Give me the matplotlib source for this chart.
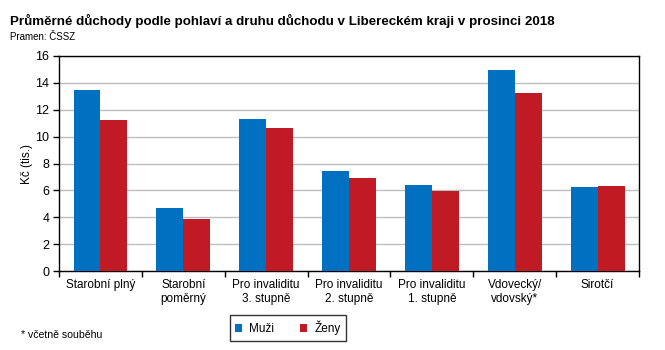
import matplotlib
matplotlib.use("Agg")
import matplotlib.pyplot as plt
import numpy as np

categories = ["Starobní plný", "Starobní\npoměrný", "Pro invaliditu\n3. stupně",
              "Pro invaliditu\n2. stupně", "Pro invaliditu\n1. stupně",
              "Vdovecký/\nvdovský*", "Sirotčí"]
muzi = [13.47, 4.69, 11.30, 7.44, 6.40, 14.96, 6.25]
zeny = [11.23, 3.87, 10.64, 6.92, 5.95, 13.24, 6.32]
yticks = [0, 2, 4, 6, 8, 10, 12, 14, 16]

plt.rcParams['font.family'] = ['Liberation Sans', 'DejaVu Sans']

fig = plt.figure(figsize=(6.65, 3.5), dpi=100)
ax = fig.add_axes([59/665, 79/350, 580/665, 215/350])

x = np.arange(len(categories))
w = 0.325
blue = "#0070C0"
red = "#C01A24"
b1 = ax.bar(x - w/2, muzi, w, color=blue, label="Muži", zorder=3)
b2 = ax.bar(x + w/2, zeny, w, color=red, label="Ženy", zorder=3)

ax.set_xlim(-0.5, len(categories) - 0.5)
ax.set_ylim(0, 16)
ax.set_yticks(yticks)
ax.set_yticklabels([str(v) for v in yticks], fontsize=9)
ax.set_xticks(x)
ax.set_xticklabels(categories, fontsize=8.5, linespacing=1.15)
ax.tick_params(axis='x', which='major', length=0, pad=6)
ax.set_xticks(np.arange(-0.5, len(categories), 1), minor=True)
ax.tick_params(axis='x', which='minor', length=4, direction='out', width=1)
ax.tick_params(axis='y', length=4, direction='out', width=1, pad=3)
ax.yaxis.grid(True, color="#BEBEBE", linewidth=1, zorder=0)
ax.set_axisbelow(True)
for s in ax.spines.values():
    s.set_linewidth(1)
    s.set_color("black")
ax.set_ylabel("Kč (tis.)", fontsize=8.5, labelpad=1.5)

fig.text(10/665, 1 - 25/350, "Průměrné důchody podle pohlaví a druhu důchodu v Libereckém kraji v prosinci 2018",
         fontsize=9.6, fontweight='bold', va='baseline', ha='left')
fig.text(10/665, 1 - 40/350, "Pramen: ČSSZ", fontsize=7, va='baseline', ha='left')
fig.text(21/665, 1 - 338/350, "* včetně souběhu", fontsize=7.6, va='baseline', ha='left')

leg = fig.legend(handles=[b1, b2], loc='center', bbox_to_anchor=(288/665, 1 - 328/350),
                 ncol=2, fontsize=8.5, frameon=True, fancybox=False, edgecolor='black',
                 handlelength=0.6, handleheight=0.6, handletextpad=0.6, columnspacing=2.2,
                 borderpad=0.45, borderaxespad=0)
leg.get_frame().set_linewidth(1)

fig.savefig("out.png", dpi=100)
